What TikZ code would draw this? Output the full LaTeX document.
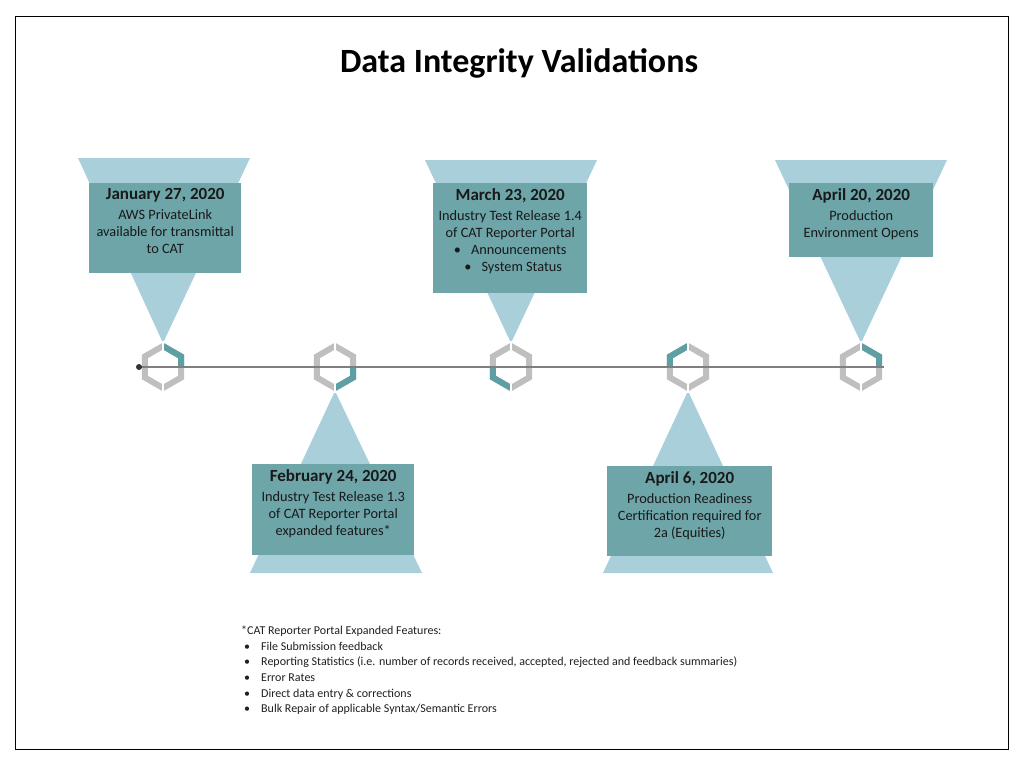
\documentclass[tikz,border=0pt]{standalone}
\usepackage{fontspec}
\setmainfont{Carlito}
\definecolor{lblue}{HTML}{A9CFDB}
\definecolor{boxteal}{HTML}{6DA5A9}
\definecolor{hteal}{HTML}{5E9FA4}
\definecolor{hgray}{HTML}{BFBFBF}
\definecolor{tgray}{HTML}{7F7F7F}
\newcommand\datefont{\fontsize{17}{19}\selectfont\bfseries}
\newcommand\fnb{\hspace*{3pt}\makebox[17pt][l]{•}}
\begin{document}
\begin{tikzpicture}[x=1pt,y=-1pt,
  tri/.style={fill=lblue, draw=none},
  box/.style={fill=boxteal, draw=none, inner sep=0pt},
  txt/.style={align=center, text=black!90, font=\fontsize{14.3}{17}\selectfont, inner sep=0pt, anchor=north},
  hexgray/.style={draw=hgray, line width=6pt, line join=miter},
  hexteal/.style={draw=hteal, line width=6pt, line cap=butt, line join=miter},
  gap/.style={draw=white, line width=1.2pt},
  tline/.style={draw=tgray, line width=1.4pt}
]
\useasboundingbox (0,0) rectangle (1024,765);
\fill[white] (0,0) rectangle (1024,765);
\draw[line width=0.9pt] (15,16) rectangle (1008,749);

% title
\node[font=\fontsize{34}{38}\selectfont\bfseries] (title) at (519,63) {Data Integrity Validations};

% hexagon centres
\coordinate (h1) at (163,367);
\coordinate (h2) at (335,367);
\coordinate (h3) at (511,367);
\coordinate (h4) at (688,367);
\coordinate (h5) at (861,367);

% callout triangles
\fill[tri] (78,158) -- (250,158) -- ([yshift=24pt]h1) -- cycle;
\fill[tri] (425,160) -- (597,160) -- ([yshift=24pt]h3) -- cycle;
\fill[tri] (775,160) -- (947,160) -- ([yshift=24pt]h5) -- cycle;
\fill[tri] (250,573) -- (422,573) -- ([yshift=-24pt]h2) -- cycle;
\fill[tri] (603,573) -- (773,573) -- ([yshift=-24pt]h4) -- cycle;

% boxes
\node[box, anchor=north west, minimum width=152pt, minimum height=90pt] (b1) at (89,183) {};
\node[box, anchor=north west, minimum width=154pt, minimum height=110pt] (b3) at (433,183) {};
\node[box, anchor=north west, minimum width=144pt, minimum height=74pt] (b5) at (789,183) {};
\node[box, anchor=north west, minimum width=162pt, minimum height=91pt] (b2) at (252,464) {};
\node[box, anchor=north west, minimum width=165pt, minimum height=90pt] (b4) at (607,466) {};

% texts
\node[txt] (t1) at ([yshift=-5pt]b1.north) {{\datefont January 27, 2020}\\[3pt]AWS PrivateLink\\available for transmittal\\to CAT};
\node[txt] (t3) at ([yshift=-5pt]b3.north) {{\datefont March 23, 2020}\\[3pt]Industry Test Release 1.4\\of CAT Reporter Portal\\•\hspace{10pt}Announcements\\\hspace{6pt}•\hspace{10pt}System Status};
\node[txt] (t5) at ([yshift=-5pt]b5.north) {{\datefont April 20, 2020}\\[3pt]Production\\Environment Opens};
\node[txt] (t2) at ([yshift=-5pt]b2.north) {{\datefont February 24, 2020}\\[3pt]Industry Test Release 1.3\\of CAT Reporter Portal\\expanded features*};
\node[txt] (t4) at ([yshift=-5pt]b4.north) {{\datefont April 6, 2020}\\[3pt]Production Readiness\\Certification required for\\2a (Equities)};

% hexagons
\foreach \h in {h1,h2,h3,h4,h5}{
  \draw[hexgray] ([shift={(0,-21)}]\h) -- ([shift={(18.19,-10.5)}]\h) -- ([shift={(18.19,10.5)}]\h) -- ([shift={(0,21)}]\h) -- ([shift={(-18.19,10.5)}]\h) -- ([shift={(-18.19,-10.5)}]\h) -- cycle;
}
\draw[hexteal] ([shift={(0,-21)}]h1) -- ([shift={(18.19,-10.5)}]h1) -- ([shift={(18.19,0)}]h1);
\draw[hexteal] ([shift={(18.19,0)}]h2) -- ([shift={(18.19,10.5)}]h2) -- ([shift={(0,21)}]h2);
\draw[hexteal] ([shift={(0,21)}]h3) -- ([shift={(-18.19,10.5)}]h3) -- ([shift={(-18.19,0)}]h3);
\draw[hexteal] ([shift={(-18.19,0)}]h4) -- ([shift={(-18.19,-10.5)}]h4) -- ([shift={(0,-21)}]h4);
\draw[hexteal] ([shift={(0,-21)}]h5) -- ([shift={(18.19,-10.5)}]h5) -- ([shift={(18.19,0)}]h5);
\foreach \h in {h1,h2,h3,h4,h5}{
  \draw[gap] ([shift={(0,-26)}]\h) -- ([shift={(0,-17)}]\h);
  \draw[gap] ([shift={(0,17)}]\h) -- ([shift={(0,26)}]\h);
}

% timeline
\coordinate (ls) at (139,367);
\coordinate (le) at (884,367);
\draw[tline] (ls) -- (le);
\fill[black!80] (ls) circle (3pt);

% footnote
\node[anchor=north west, align=left, inner sep=0pt, text=black!88, font=\fontsize{12}{15.6}\selectfont] (note) at (241,626) {*CAT Reporter Portal Expanded Features:\\
\fnb File Submission feedback\\
\fnb Reporting Statistics (i.e. number of records received, accepted, rejected and feedback summaries)\\
\fnb Error Rates\\
\fnb Direct data entry \& corrections\\
\fnb Bulk Repair of applicable Syntax/Semantic Errors};
\end{tikzpicture}
\end{document}
